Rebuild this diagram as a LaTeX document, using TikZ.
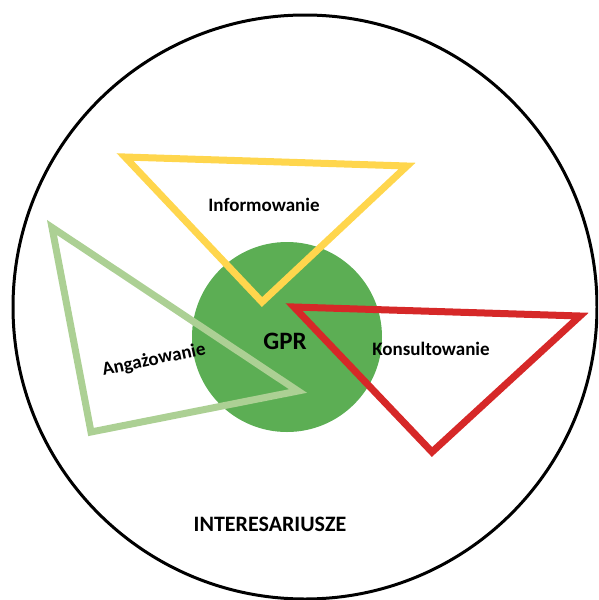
\documentclass[tikz,border=0pt]{standalone}
\usepackage{fontspec}
\setmainfont{Carlito}
\definecolor{gprgreen}{RGB}{92,174,84}
\definecolor{infoyellow}{RGB}{255,214,77}
\definecolor{angagreen}{RGB}{172,208,148}
\definecolor{konsred}{RGB}{214,40,40}
\tikzset{
  tri/.style={line width=7pt, line join=miter, miter limit=10},
  lbl/.style={font=\bfseries\fontsize{19}{22}\selectfont, inner sep=0pt}
}
\begin{document}
\begin{tikzpicture}[x=1pt,y=-1pt]
\useasboundingbox (0,0) rectangle (598,600);
\begin{scope}
\clip (0,0) rectangle (598,600);
\draw[line width=3pt] (305,307) circle[radius=292];
\end{scope}
\node[circle, fill=gprgreen, minimum size=190pt, inner sep=0pt] (gpr) at (287,337) {};
% Informowanie (yellow)
\coordinate (y1) at (125,157);
\coordinate (y2) at (407,166);
\coordinate (y3) at (262,302);
\draw[tri, infoyellow] (y1) -- (y2) -- (y3) -- cycle;
% Angazowanie (light green)
\coordinate (a1) at (52,227.5);
\coordinate (a2) at (298,391);
\coordinate (a3) at (91,432);
\draw[tri, angagreen] (a1) -- (a2) -- (a3) -- cycle;
% Konsultowanie (red)
\coordinate (k1) at (294,307);
\coordinate (k2) at (580,316);
\coordinate (k3) at (432,452);
\draw[tri, konsred] (k1) -- (k2) -- (k3) -- cycle;
\node[font=\bfseries\fontsize{25}{28}\selectfont, inner sep=0pt] (gprtext) at (285,341) {GPR};
\node[lbl] (info) at (264,205) {Informowanie};
\node[lbl] (kons) at (431,349) {Konsultowanie};
\node[lbl, rotate=12] (anga) at (154,360) {Angażowanie};
\node[font=\bfseries\fontsize{22}{26}\selectfont, inner sep=0pt] (inter) at (270,524) {INTERESARIUSZE};
\end{tikzpicture}
\end{document}
